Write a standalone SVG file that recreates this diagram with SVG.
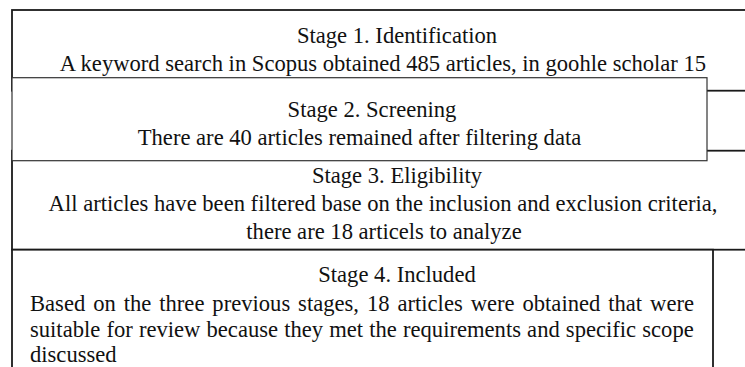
<svg xmlns="http://www.w3.org/2000/svg" width="745" height="367" viewBox="0 0 745 367">
<style>
.box{fill:#fff;stroke:#1a1a1a;stroke-width:1.8}
.thin{fill:#fff;stroke:#333;stroke-width:1.2}
text{font-family:"Liberation Serif","Times New Roman",serif;font-size:22.6px;fill:#111}
.c{text-anchor:middle}
</style>
<rect width="745" height="367" fill="#fff"/>
<g id="stage1">
<rect class="box" x="12" y="10" width="745" height="80.7"/>
<text class="c" x="397" y="43.3">Stage 1. Identification</text>
<text class="c" x="383" y="71">A keyword search in Scopus obtained 485 articles, in goohle scholar 15</text>
</g>
<g id="stage3">
<rect class="box" x="12" y="150.7" width="745" height="99"/>
<text class="c" x="397" y="183.3">Stage 3. Eligibility</text>
<text class="c" x="383" y="211">All articles have been filtered base on the inclusion and exclusion criteria,</text>
<text class="c" x="384" y="239">there are 18 articels to analyze</text>
</g>
<g id="stage2">
<rect class="thin" x="12" y="77.7" width="695" height="83"/>
<text class="c" x="372" y="116.7">Stage 2. Screening</text>
<text class="c" x="359.5" y="145">There are 40 articles remained after filtering data</text>
</g>
<g id="stage4">
<rect class="box" x="12" y="249.7" width="701" height="130"/>
<text class="c" x="397" y="281.7">Stage 4. Included</text>
<text x="30" y="311" word-spacing="2.3">Based on the three previous stages, 18 articles were obtained that were</text>
<text x="30" y="337" word-spacing="0.5">suitable for review because they met the requirements and specific scope</text>
<text x="30" y="361.5">discussed</text>
</g>
<g id="connectors"/>
</svg>
